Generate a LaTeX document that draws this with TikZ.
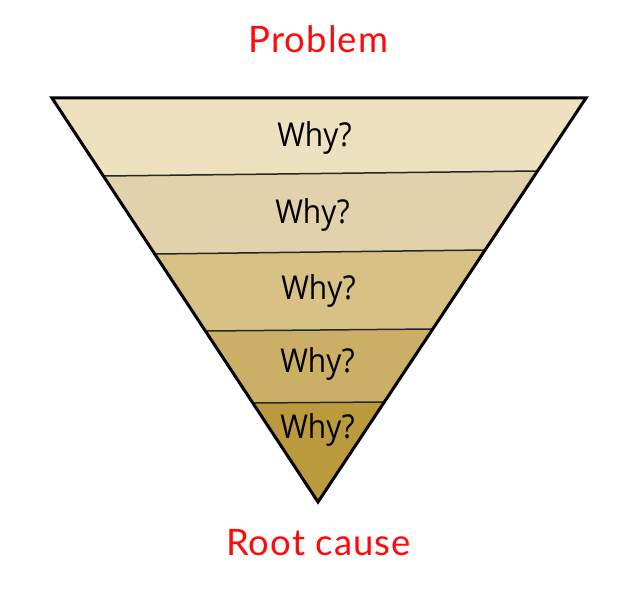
\documentclass[tikz,border=0pt]{standalone}
\usepackage{graphicx}
\usepackage{fontspec}
\setmainfont{Open Sans}
\newfontfamily\labelfont[LetterSpace=3]{Lato}
\newcommand{\whyword}{\scalebox{1}[1.1]{Why?}}
\definecolor{bandA}{HTML}{EDE1BF}
\definecolor{bandB}{HTML}{E1D2AC}
\definecolor{bandC}{HTML}{D7C185}
\definecolor{bandD}{HTML}{CBAF66}
\definecolor{bandE}{HTML}{BB9A3D}
\definecolor{labelred}{HTML}{FF0A0A}
\begin{document}
\begin{tikzpicture}[x=1bp,y=-1bp,
  whytext/.style={font=\fontsize{30}{34}\selectfont,text=black,inner sep=0pt},
  capt/.style={font=\labelfont\fontsize{36.6}{42}\selectfont,text=labelred,inner sep=0pt},
  divider/.style={draw=black!85,line width=1.5bp},
  outline/.style={draw=black,line width=3bp,line join=miter}]
\useasboundingbox (0,0) rectangle (631,605);
\fill[white] (0,0) rectangle (631,605);
\coordinate (tl) at (52,98);
\coordinate (tr) at (586,98);
\coordinate (bt) at (318,502);
\coordinate (l1) at (105,176); \coordinate (r1) at (537,171);
\coordinate (l2) at (156,254); \coordinate (r2) at (485,250);
\coordinate (l3) at (207,331); \coordinate (r3) at (433,329);
\coordinate (l4) at (254,403); \coordinate (r4) at (385,402);
\fill[bandA] (tl) -- (tr) -- (r1) -- (l1) -- cycle;
\fill[bandB] (l1) -- (r1) -- (r2) -- (l2) -- cycle;
\fill[bandC] (l2) -- (r2) -- (r3) -- (l3) -- cycle;
\fill[bandD] (l3) -- (r3) -- (r4) -- (l4) -- cycle;
\fill[bandE] (l4) -- (r4) -- (bt) -- cycle;
\draw[divider] (l1) -- (r1);
\draw[divider] (l2) -- (r2);
\draw[divider] (l3) -- (r3);
\draw[divider] (l4) -- (r4);
\draw[outline] (tl) -- (tr) -- (bt) -- cycle;
\node[whytext] (w1) at (314.5,138) {\whyword};
\node[whytext] (w2) at (312.5,215) {\whyword};
\node[whytext] (w3) at (318.5,291) {\whyword};
\node[whytext] (w4) at (317.5,364) {\whyword};
\node[whytext] (w5) at (317.5,430) {\whyword};
\node[capt] (problem) at (318.5,39) {Problem};
\node[capt] (root) at (318.5,543) {Root cause};
\end{tikzpicture}
\end{document}
